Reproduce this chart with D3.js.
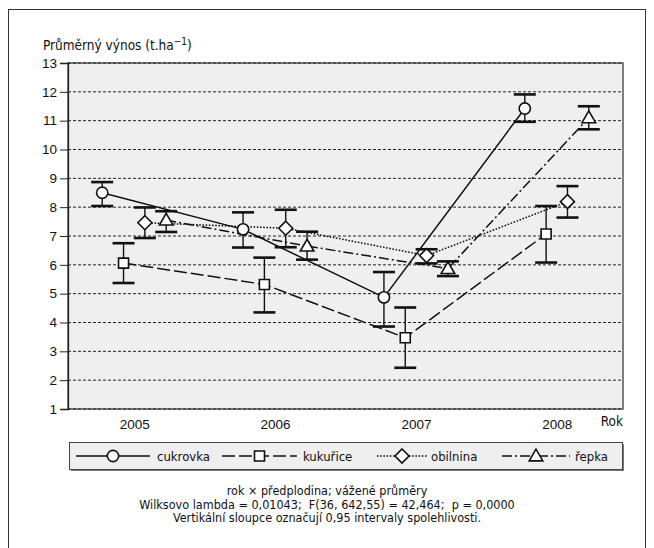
<!DOCTYPE html>
<html>
<head>
<meta charset="utf-8">
<script src="https://cdn.jsdelivr.net/npm/d3@7"></script>
<style>
	body { margin: 0; background: #fff; }
	svg { display: block; font-family: "Liberation Sans Narrow", "DejaVu Sans Condensed", "Arial Narrow", sans-serif; }
	.note { white-space: pre; }
</style>
</head>
<body>
<div id="chart"></div>
<script>
const years = ["2005", "2006", "2007", "2008"];
const crops = ["cukrovka", "kukuřice", "obilnina", "řepka"];
const yTicks = [1, 2, 3, 4, 5, 6, 7, 8, 9, 10, 11, 12, 13];

// means and 0.95 confidence limits, per crop, per year
const cukrovka = [8.50, 7.23, 4.87, 11.42];
const cukrovkaLo = [8.04, 6.60, 3.86, 10.96];
const cukrovkaHi = [8.87, 7.82, 5.75, 11.91];

const kukurice = [6.06, 5.32, 3.47, 7.07];
const kukuriceLo = [5.37, 4.35, 2.43, 6.08];
const kukuriceHi = [6.75, 6.25, 4.52, 8.04];

const obilnina = [7.46, 7.27, 6.32, 8.19];
const obilninaLo = [6.93, 6.61, 6.05, 7.64];
const obilninaHi = [7.99, 7.91, 6.54, 8.73];

const repka = [7.55, 6.65, 5.87, 11.10];
const repkaLo = [7.14, 6.18, 5.61, 10.70];
const repkaHi = [7.86, 7.15, 6.12, 11.50];

const notes = [
	"rok × předplodina; vážené průměry",
	"Wilksovo lambda = 0,01043;  F(36, 642,55) = 42,464;  p = 0,0000",
	"Vertikální sloupce označují 0,95 intervaly spolehlivosti."
];

// diamond drawn as a square turned 45 degrees
const squareDiamond = {
	draw(ctx, size) {
		let r = Math.sqrt(size / 2);
		ctx.moveTo(0, -r);
		ctx.lineTo(r, 0);
		ctx.lineTo(0, r);
		ctx.lineTo(-r, 0);
		ctx.closePath();
	}
};

const series = [
	{name: crops[0], mean: cukrovka, lo: cukrovkaLo, hi: cukrovkaHi, dash: null, symbol: d3.symbolCircle, size: 100, dy: 0},
	{name: crops[1], mean: kukurice, lo: kukuriceLo, hi: kukuriceHi, dash: "13,4", symbol: d3.symbolSquare, size: 100, dy: 0},
	{name: crops[2], mean: obilnina, lo: obilninaLo, hi: obilninaHi, dash: "1.6,1.6", symbol: squareDiamond, size: 98, dy: 0},
	{name: crops[3], mean: repka, lo: repkaLo, hi: repkaHi, dash: "10,3,2,3", symbol: d3.symbolTriangle, size: 80, dy: 1}
];

const W = 654, H = 548;
const plot = {left: 68, right: 623, top: 63, bottom: 409};

const svg = d3.select("#chart").append("svg")
	.attr("width", W)
	.attr("height", H)
	.attr("viewBox", `0 0 ${W} ${H}`);

// outer frame
svg.append("rect")
	.attr("x", 8.5).attr("y", 9.5)
	.attr("width", 637).attr("height", 600)
	.attr("fill", "none")
	.attr("stroke", "#333");

let x = d3.scalePoint().domain(years).range([plot.left, plot.right]).padding(0.47);
let off = d3.scalePoint().domain(crops).range([-32, 32]);
let y = d3.scaleLinear().domain([1, 13]).range([plot.bottom, plot.top]);

svg.append("rect")
	.attr("x", plot.left).attr("y", plot.top)
	.attr("width", plot.right - plot.left).attr("height", plot.bottom - plot.top)
	.attr("fill", "#eeefee")
	.attr("stroke", "#555")
	.attr("stroke-width", 1.5);

// grid
svg.append("g")
	.selectAll("line")
	.data(yTicks)
	.join("line")
	.attr("x1", plot.left).attr("x2", plot.right)
	.attr("y1", d => y(d)).attr("y2", d => y(d))
	.attr("stroke", "#222")
	.attr("stroke-dasharray", "3,2");

// y axis
svg.append("g")
	.attr("transform", `translate(${plot.left}, 0)`)
	.call(d3.axisLeft(y).tickValues(yTicks).tickSize(8).tickPadding(3).tickFormat(d3.format("d")))
	.call(g => g.select(".domain").attr("stroke", "#222").attr("stroke-width", 1.3))
	.call(g => g.selectAll(".tick line").attr("stroke", "#222"))
	.call(g => g.selectAll("text").attr("font-size", 13.5).attr("fill", "#111").attr("font-family", null));

// x labels
svg.append("g")
	.attr("transform", `translate(0, ${plot.bottom})`)
	.call(d3.axisBottom(x).tickSize(0).tickPadding(10))
	.call(g => g.select(".domain").remove())
	.call(g => g.selectAll("text").attr("font-size", 13.5).attr("fill", "#111").attr("font-family", null));

svg.append("text")
	.attr("x", 623).attr("y", 426)
	.attr("text-anchor", "end")
	.attr("font-size", 13.5)
	.attr("fill", "#111")
	.text("Rok");

// title
let title = svg.append("text")
	.attr("x", 43).attr("y", 50)
	.attr("font-size", 13.5)
	.attr("fill", "#111");
title.append("tspan").text("Průměrný výnos (t.ha");
title.append("tspan").attr("dy", -5).attr("font-size", 10).text("−1");
title.append("tspan").attr("dy", 5).text(")");

let px = (s, i) => x(years[i]) + off(s.name);

// error bars
series.forEach(s => {
	let g = svg.append("g").attr("class", "errbar");
	g.selectAll("line.v")
		.data(years)
		.join("line")
		.attr("class", "v")
		.attr("x1", (d, i) => px(s, i)).attr("x2", (d, i) => px(s, i))
		.attr("y1", (d, i) => y(s.lo[i])).attr("y2", (d, i) => y(s.hi[i]))
		.attr("stroke", "#111").attr("stroke-width", 1.4);
	["lo", "hi"].forEach(k => {
		g.selectAll("line." + k)
			.data(years)
			.join("line")
			.attr("class", k)
			.attr("x1", (d, i) => px(s, i) - 11).attr("x2", (d, i) => px(s, i) + 11)
			.attr("y1", (d, i) => y(s[k][i])).attr("y2", (d, i) => y(s[k][i]))
			.attr("stroke", "#111").attr("stroke-width", 2.6);
	});
});

let line = d3.line()
	.x(d => d.x)
	.y(d => d.y);

series.forEach(s => {
	let pts = years.map((d, i) => ({x: px(s, i), y: y(s.mean[i])}));
	svg.append("path")
		.attr("d", line(pts))
		.attr("fill", "none")
		.attr("stroke", "#111")
		.attr("stroke-width", 1.5)
		.attr("stroke-dasharray", s.dash);
});

series.forEach(s => {
	svg.append("g")
		.selectAll("path")
		.data(years)
		.join("path")
		.attr("transform", (d, i) => `translate(${px(s, i)}, ${y(s.mean[i]) + s.dy})`)
		.attr("d", d3.symbol(s.symbol, s.size))
		.attr("fill", "#fff")
		.attr("stroke", "#111")
		.attr("stroke-width", 1.6);
});

// legend
const legendItems = [
	{x1: 76, x2: 150, tx: 157},
	{x1: 222, x2: 297, tx: 303},
	{x1: 377, x2: 427, tx: 431},
	{x1: 502, x2: 570, tx: 575}
];
let lg = svg.append("g");
lg.append("rect")
	.attr("x", 71).attr("y", 444)
	.attr("width", 553).attr("height", 27)
	.attr("fill", "#777");
lg.append("rect")
	.attr("x", 69.5).attr("y", 442.5)
	.attr("width", 553).attr("height", 27)
	.attr("fill", "#eeefee")
	.attr("stroke", "#444");
series.forEach((s, i) => {
	let it = legendItems[i];
	let cy = 456;
	lg.append("line")
		.attr("x1", it.x1).attr("x2", it.x2)
		.attr("y1", cy).attr("y2", cy)
		.attr("stroke", "#111").attr("stroke-width", 1.5)
		.attr("stroke-dasharray", s.dash);
	lg.append("path")
		.attr("transform", `translate(${(it.x1 + it.x2) / 2}, ${cy + s.dy})`)
		.attr("d", d3.symbol(s.symbol, s.size))
		.attr("fill", "#fff")
		.attr("stroke", "#111")
		.attr("stroke-width", 1.6);
	lg.append("text")
		.attr("x", it.tx).attr("y", cy + 5)
		.attr("font-size", 13)
		.attr("fill", "#111")
		.text(s.name);
});

// notes
svg.append("g")
	.selectAll("text")
	.data(notes)
	.join("text")
	.attr("class", "note")
	.attr("x", 327)
	.attr("y", (d, i) => 495 + i * 13.5)
	.attr("text-anchor", "middle")
	.attr("font-size", 12.5)
	.attr("fill", "#111")
	.text(d => d);
</script>
</body>
</html>
